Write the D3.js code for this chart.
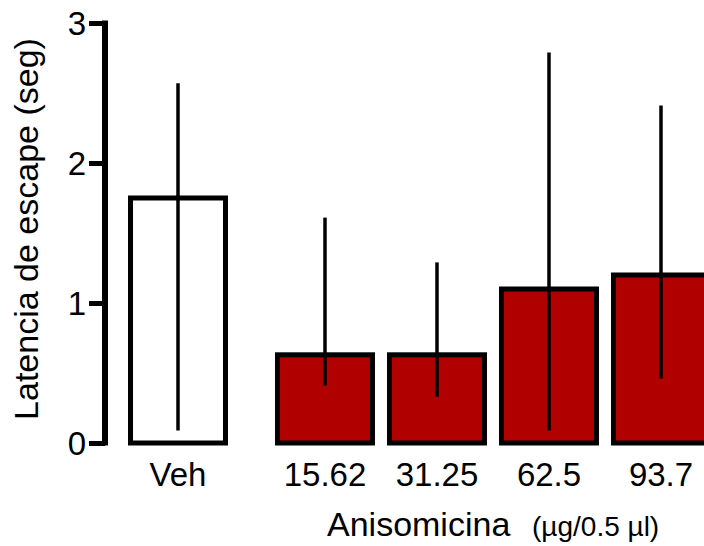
<!DOCTYPE html>
<html>
<head>
<meta charset="utf-8">
<script src="https://cdn.jsdelivr.net/npm/d3@7"></script>
<style>
  body { margin: 0; background: #fff; }
  svg { display: block; }
  text { font-family: 'Liberation Sans', Arial, sans-serif; fill: #000; }
</style>
</head>
<body>
<svg id="chart" width="704" height="546"></svg>
<script>
// data
const groups = ['Veh', '15.62', '31.25', '62.5', '93.7']
const means = [1.75, 0.63, 0.63, 1.1, 1.2]
const errLow = [0.09, 0.41, 0.33, 0.09, 0.46]
const errHigh = [2.57, 1.61, 1.29, 2.79, 2.41]
const yTicks = [0, 1, 2, 3]

const data = groups.map((g, i) => ({
  group: g,
  mean: means[i],
  low: errLow[i],
  high: errHigh[i],
}))

const width = 704
const height = 546
const gap = 35 // space between vehicle and drug doses

const svg = d3.select('#chart')

svg
  .append('rect')
  .attr('width', width)
  .attr('height', height)
  .attr('fill', '#fff')

const x = d3
  .scaleBand()
  .domain(groups)
  .range([122, 682])
  .paddingInner(0.152)
  .paddingOuter(0.076)

const xPos = (g) => x(g) + (g === 'Veh' ? 0 : gap)

const y = d3.scaleLinear().domain([0, 3]).range([443, 23])

// bars
svg
  .append('g')
  .selectAll('rect')
  .data(data)
  .join('rect')
  .attr('x', (d) => xPos(d.group))
  .attr('y', (d) => y(d.mean))
  .attr('width', x.bandwidth())
  .attr('height', (d) => y(0) - y(d.mean))
  .attr('fill', (d) => (d.group === 'Veh' ? '#fff' : '#b00000'))
  .attr('stroke', '#000')
  .attr('stroke-width', 5)

// error bars
svg
  .append('g')
  .selectAll('line')
  .data(data)
  .join('line')
  .attr('x1', (d) => xPos(d.group) + x.bandwidth() / 2)
  .attr('x2', (d) => xPos(d.group) + x.bandwidth() / 2)
  .attr('y1', (d) => y(d.low))
  .attr('y2', (d) => y(d.high))
  .attr('stroke', '#000')
  .attr('stroke-width', 3.5)

// y axis
const yAxis = svg
  .append('g')
  .attr('transform', 'translate(105,0)')
  .call(d3.axisLeft(y).tickValues(yTicks).tickFormat(d3.format('d')).tickSize(16).tickPadding(3).tickSizeOuter(0))

yAxis.select('.domain').attr('stroke-width', 6).attr('d', `M0,${y(3) - 2.5}V${y(0) + 2.5}`)
yAxis.selectAll('.tick line').attr('stroke-width', 5).attr('x2', -16).attr('x1', 0)
yAxis
  .selectAll('.tick text')
  .style('font-size', '33px')
  .style('font-family', "'Liberation Sans', Arial, sans-serif")
  .attr('dy', '0.36em')

// x category labels
svg
  .append('g')
  .selectAll('text')
  .data(groups)
  .join('text')
  .attr('x', (d) => xPos(d) + x.bandwidth() / 2)
  .attr('y', 486)
  .attr('text-anchor', 'middle')
  .style('font-size', '33px')
  .text((d) => d)

// axis titles
svg
  .append('text')
  .attr('transform', 'translate(38,229) rotate(-90)')
  .attr('text-anchor', 'middle')
  .style('font-size', '34px')
  .text('Latencia de escape (seg)')

const xTitle = svg.append('text').attr('x', 327).attr('y', 536).style('font-size', '34px')
xTitle.append('tspan').text('Anisomicina')
xTitle
  .append('tspan')
  .attr('x', 532)
  .style('font-size', '28px')
  .text('(µg/0.5 µl)')
</script>
</body>
</html>
